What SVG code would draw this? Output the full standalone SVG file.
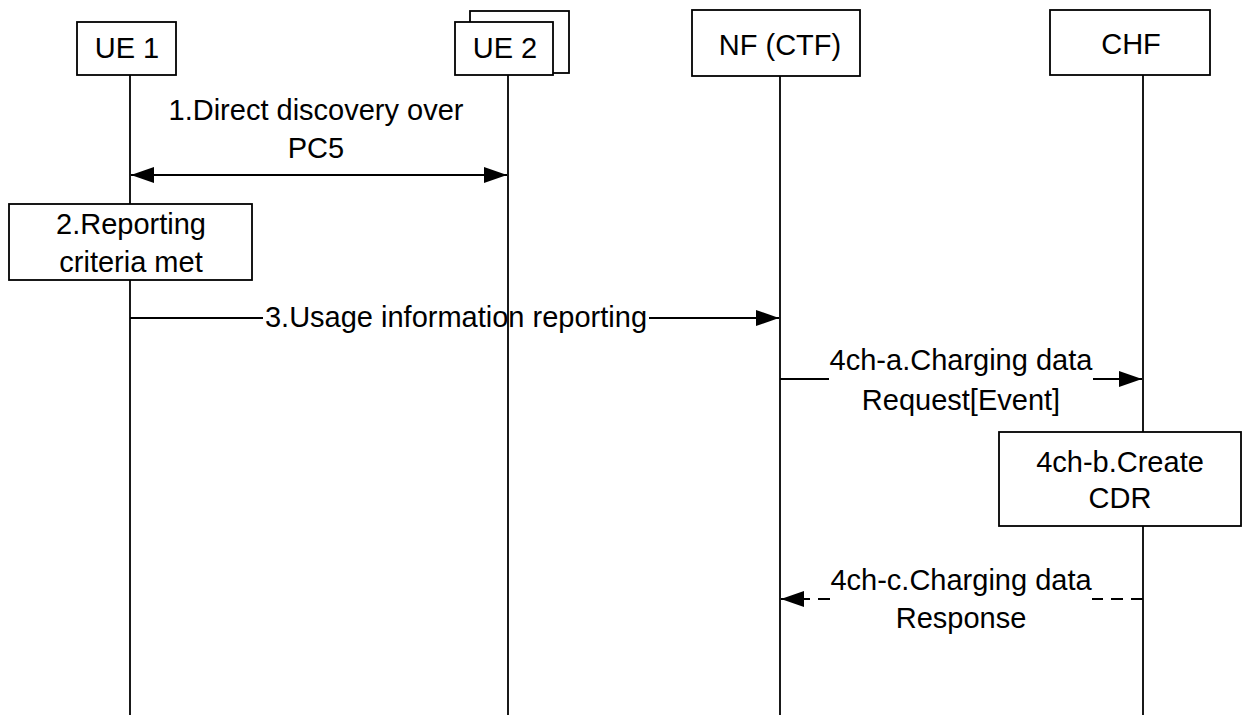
<svg xmlns="http://www.w3.org/2000/svg" width="1242" height="715" viewBox="0 0 1242 715">
<style>
  .box { fill: #ffffff; stroke: #000000; stroke-width: 1.8; }
  .life { stroke: #000000; stroke-width: 1.8; fill: none; }
  .msg { stroke: #000000; stroke-width: 1.8; fill: none; }
  .dash { stroke-dasharray: 12 8; }
  text { font-family: "Liberation Sans", Arial, sans-serif; font-size: 29px; fill: #000000; text-anchor: middle; }
</style>
<defs>
  <marker id="arrowEnd" markerWidth="24" markerHeight="16" refX="23" refY="8" orient="auto" markerUnits="userSpaceOnUse">
    <path d="M0,0 L23,8 L0,16 Z" fill="#000000"/>
  </marker>
  <marker id="arrowStart" markerWidth="24" markerHeight="16" refX="1" refY="8" orient="auto" markerUnits="userSpaceOnUse">
    <path d="M24,0 L1,8 L24,16 Z" fill="#000000"/>
  </marker>
</defs>

<g id="lifelines">
  <line class="life" x1="130" y1="75" x2="130" y2="715"/>
  <line class="life" x1="508" y1="75" x2="508" y2="715"/>
  <line class="life" x1="780" y1="76" x2="780" y2="715"/>
  <line class="life" x1="1143" y1="75" x2="1143" y2="715"/>
</g>

<g id="ue1">
  <rect class="box" x="77" y="22" width="99" height="53"/>
  <text x="127" y="58">UE 1</text>
</g>

<g id="ue2">
  <rect class="box" x="470" y="11" width="99" height="62"/>
  <rect class="box" x="455" y="22" width="98" height="53"/>
  <text x="505" y="58">UE 2</text>
</g>

<g id="nf">
  <rect class="box" x="692" y="10" width="168" height="66"/>
  <text x="780" y="55">NF (CTF)</text>
</g>

<g id="chf">
  <rect class="box" x="1050" y="10" width="160" height="65"/>
  <text x="1131" y="54">CHF</text>
</g>

<g id="step2">
  <rect class="box" x="9" y="204" width="243" height="76"/>
  <text x="131" y="234">2.Reporting</text>
  <text x="131" y="272">criteria met</text>
</g>

<g id="step4b">
  <rect class="box" x="999" y="432" width="242" height="94"/>
  <text x="1120" y="472">4ch-b.Create</text>
  <text x="1120" y="508">CDR</text>
</g>

<g id="connectors">
  <!-- 1 -->
  <line class="msg" x1="131" y1="175" x2="507" y2="175" marker-start="url(#arrowStart)" marker-end="url(#arrowEnd)"/>
  <text x="316" y="120">1.Direct discovery over</text>
  <text x="316" y="158">PC5</text>
  <!-- 3 -->
  <line class="msg" x1="130" y1="318" x2="263" y2="318"/>
  <line class="msg" x1="649" y1="318" x2="779" y2="318" marker-end="url(#arrowEnd)"/>
  <text x="456" y="327">3.Usage information reporting</text>
  <!-- 4ch-a -->
  <line class="msg" x1="780" y1="379" x2="829" y2="379"/>
  <line class="msg" x1="1093" y1="379" x2="1142" y2="379" marker-end="url(#arrowEnd)"/>
  <text x="961" y="370">4ch-a.Charging data</text>
  <text x="961" y="410">Request[Event]</text>
  <!-- 4ch-c -->
  <line class="msg dash" x1="1143" y1="599" x2="1092" y2="599"/>
  <line class="msg dash" x1="830" y1="599" x2="781" y2="599" marker-end="url(#arrowEnd)"/>
  <text x="961" y="590">4ch-c.Charging data</text>
  <text x="961" y="628">Response</text>
</g>
</svg>
